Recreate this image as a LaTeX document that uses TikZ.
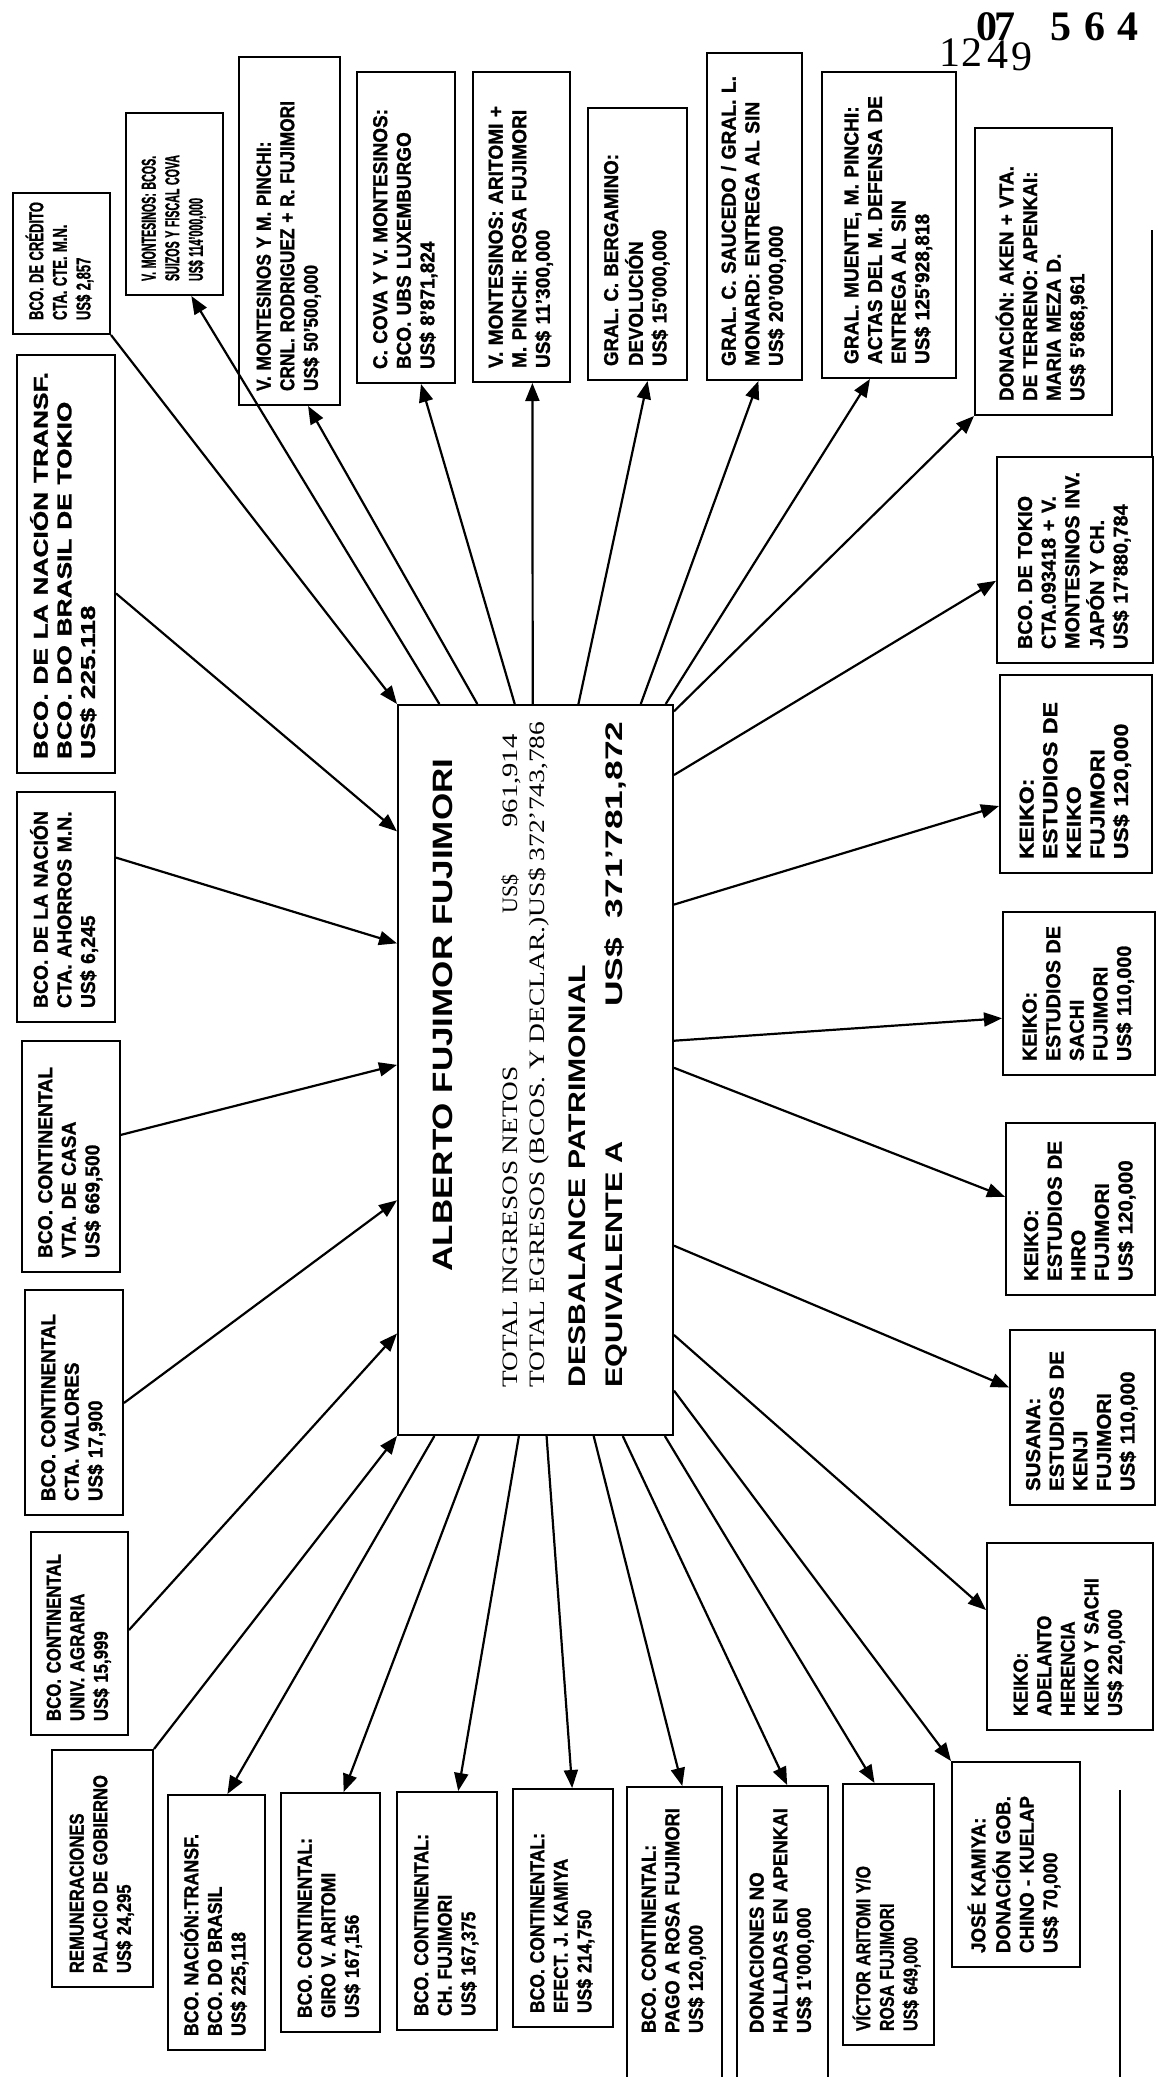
\documentclass[tikz,border=0pt]{standalone}
\usepackage{fontspec}
\usepackage{graphicx}
\usetikzlibrary{arrows.meta,calc}
\setmainfont{Liberation Serif}
\newfontfamily\bxfont{Liberation Sans}[Ligatures=TeX, BoldFeatures={FakeBold=1.3}]
\newfontfamily\ctfont{Liberation Sans}[Ligatures=TeX]

\tikzset{
  x=0.5pt, y=-0.5pt,
  bxstyle/.style={draw, line width=1pt, rotate=90, align=left, inner xsep=7pt, inner ysep=2pt,
    font=\bxfont\bfseries\fontsize{10}{11.8}\selectfont},
  conn/.style={line width=1.1pt},
  arr/.style={conn, -{Triangle[length=9pt,width=7pt]}},
  ctext/.style={rotate=90, anchor=base west, inner sep=0pt},
  digA/.style={anchor=base west, inner sep=0pt, font=\fontsize{21}{21}\selectfont},
  digB/.style={anchor=base west, inner sep=0pt, font=\bfseries\fontsize{21}{21}\selectfont},
}

\newsavebox\bxbox
\newlength\bxnat
\newlength\bxtarget
% scale a block of lines horizontally only, to a target width
\newcommand\fitlines[2]{%
  \sbox\bxbox{\begin{tabular}{@{}l@{}}#2\end{tabular}}%
  \setlength\bxnat{\wd\bxbox}%
  \ifdim\bxnat<1pt\setlength\bxnat{1pt}\fi
  \setlength\bxtarget{#1}%
  \pgfmathsetmacro\bxs{\bxtarget/\bxnat}%
  \scalebox{\bxs}[1]{\usebox\bxbox}}
% \bxnode[extra offset px]{name}{x1}{y1}{x2}{y2}{longest line px}{lines}
\newcommand\bxnode[8][0]{%
  \pgfmathsetmacro\bxw{(#6-#4)*0.5}%
  \pgfmathsetmacro\bxh{(#5-#3)*0.5}%
  \pgfmathsetmacro\bxt{(#6-#4)*0.5-14}%
  \pgfmathsetmacro\bxl{#7*0.5}%
  \pgfmathsetmacro\bxo{#1*0.5}%
  \node[bxstyle, minimum width=\bxw pt, minimum height=\bxh pt, text width=\bxt pt] (#2)
    at ({(#3+#5)/2},{(#4+#6)/2})
    {\hspace*{\bxo pt}\fitlines{\bxl pt}{#8}};%
}

\begin{document}
\begin{tikzpicture}
\useasboundingbox (0,0) rectangle (1157,2077);
\fill[white] (0,0) rectangle (1157,2077);
\clip (0,0) rectangle (1157,2077);

% ---------- centre box ----------
\node[draw, line width=1pt, minimum width=137.5pt, minimum height=365pt, inner sep=0pt] (C) at (535.5,1070) {};
\node[ctext] (ct1) at (452,1272) {\resizebox{256.5pt}{\height}{\ctfont\bfseries\fontsize{14}{14}\selectfont ALBERTO FUJIMOR FUJIMORI}};
\node[ctext] (ct2) at (517,1388) {\resizebox{160.5pt}{\height}{\fontsize{11}{11}\selectfont TOTAL INGRESOS NETOS}};
\node[ctext] (ct2b) at (517,914) {\resizebox{19.5pt}{\height}{\fontsize{11}{11}\selectfont US\$}};
\node[ctext] (ct2c) at (517,828) {\resizebox{46.5pt}{\height}{\fontsize{11}{11}\selectfont 961,914}};
\node[ctext] (ct3) at (544,1388) {\resizebox{333pt}{\height}{\fontsize{11}{11}\selectfont TOTAL EGRESOS (BCOS. Y DECLAR.)US\$ 372'743,786}};
\node[ctext] (ct4) at (585,1388) {\resizebox{211.5pt}{\height}{\ctfont\bfseries\fontsize{12}{12}\selectfont DESBALANCE PATRIMONIAL}};
\node[ctext] (ct5) at (622,1388) {\resizebox{123pt}{\height}{\ctfont\bfseries\fontsize{12}{12}\selectfont EQUIVALENTE A}};
\node[ctext] (ct5b) at (622,1007) {\resizebox{142.5pt}{\height}{\ctfont\bfseries\fontsize{12}{12}\selectfont US\$\ \ 371'781,872}};

% ---------- left column ----------
\bxnode{A1}{13}{193}{110}{334}{118}{BCO. DE CRÉDITO\\ CTA. CTE. M.N.\\ US\$ 2,857}
\bxnode{A2}{17}{355}{115}{773}{387}{BCO. DE LA NACIÓN TRANSF.\\ BCO. DO BRASIL DE TOKIO\\ US\$ 225.118}
\bxnode{A3}{17}{792}{115}{1022}{197}{BCO. DE LA NACIÓN\\ CTA. AHORROS M.N.\\ US\$ 6,245}
\bxnode{A4}{22}{1041}{120}{1272}{191}{BCO. CONTINENTAL\\ VTA. DE CASA\\ US\$ 669,500}
\bxnode{A5}{25}{1290}{123}{1515}{187}{BCO. CONTINENTAL\\ CTA. VALORES\\ US\$ 17,900}
\bxnode{A6}{31}{1532}{128}{1735}{167}{BCO. CONTINENTAL\\ UNIV. AGRARIA\\ US\$ 15,999}
\bxnode{A7}{52}{1750}{153}{1987}{198}{REMUNERACIONES\\ PALACIO DE GOBIERNO\\ US\$ 24,295}

% ---------- top row ----------
\bxnode{T1}{126}{113}{223}{295}{126}{V. MONTESINOS: BCOS.\\ SUIZOS Y FISCAL COVA\\ US\$ 114'000,000}
\bxnode{T2}{239}{57}{340}{405}{290}{V. MONTESINOS Y M. PINCHI:\\ CRNL. RODRIGUEZ + R. FUJIMORI\\ US\$ 50'500,000}
\bxnode{T3}{357}{72}{455}{383}{260}{C. COVA Y V. MONTESINOS:\\ BCO. UBS LUXEMBURGO\\ US\$ 8'871,824}
\bxnode{T4}{473}{72}{570}{382}{262}{V. MONTESINOS: ARITOMI +\\ M. PINCHI: ROSA FUJIMORI\\ US\$ 11'300,000}
\bxnode{T5}{588}{108}{687}{380}{212}{GRAL. C. BERGAMINO:\\ DEVOLUCIÓN\\ US\$ 15'000,000}
\bxnode{T6}{707}{53}{802}{380}{290}{GRAL. C. SAUCEDO / GRAL. L.\\ MONARD: ENTREGA AL SIN\\ US\$ 20'000,000}
\bxnode{T7}{822}{72}{956}{378}{268}{GRAL. MUENTE, M. PINCHI:\\ ACTAS DEL M. DEFENSA DE\\ ENTREGA AL SIN\\ US\$ 125'928,818}

% ---------- right column ----------
\bxnode{R1}{975}{128}{1112}{415}{235}{DONACIÓN: AKEN + VTA.\\ DE TERRENO: APENKAI:\\ MARIA MEZA D.\\ US\$ 5'868,961}
\bxnode{R2}{997}{457}{1153}{663}{177}{BCO. DE TOKIO\\ CTA.093418 + V.\\ MONTESINOS INV.\\ JAPÓN Y CH.\\ US\$ 17'880,784}
\bxnode{R3}{1000}{675}{1152}{873}{157}{KEIKO:\\ ESTUDIOS DE\\ KEIKO\\ FUJIMORI\\ US\$ 120,000}
\bxnode{R4}{1003}{912}{1155}{1075}{135}{KEIKO:\\ ESTUDIOS DE\\ SACHI\\ FUJIMORI\\ US\$ 110,000}
\bxnode{R5}{1006}{1123}{1155}{1295}{140}{KEIKO:\\ ESTUDIOS DE\\ HIRO\\ FUJIMORI\\ US\$ 120,000}
\bxnode{R6}{1010}{1330}{1155}{1505}{140}{SUSANA:\\ ESTUDIOS DE\\ KENJI\\ FUJIMORI\\ US\$ 110,000}
\bxnode{R7}{987}{1543}{1153}{1730}{138}{KEIKO:\\ ADELANTO\\ HERENCIA\\ KEIKO Y SACHI\\ US\$ 220,000}

% ---------- bottom row ----------
\bxnode{B1}{168}{1795}{265}{2050}{202}{BCO. NACIÓN:TRANSF.\\ BCO. DO BRASIL\\ US\$ 225,118}
\bxnode{B2}{281}{1793}{380}{2032}{180}{BCO. CONTINENTAL:\\ GIRO V. ARITOMI\\ US\$ 167,156}
\bxnode{B3}{397}{1792}{497}{2030}{182}{BCO. CONTINENTAL:\\ CH. FUJIMORI\\ US\$ 167,375}
\bxnode{B4}{513}{1789}{613}{2027}{180}{BCO. CONTINENTAL:\\ EFECT. J. KAMIYA\\ US\$ 214,750}
\bxnode[48]{B5}{627}{1787}{722}{2095}{225}{BCO. CONTINENTAL:\\ PAGO A ROSA FUJIMORI\\ US\$ 120,000}
\bxnode[48]{B6}{737}{1786}{828}{2095}{225}{DONACIONES NO\\ HALLADAS EN APENKAI\\ US\$ 1'000,000}
\bxnode{B7}{843}{1784}{934}{2045}{165}{VÍCTOR ARITOMI Y/O\\ ROSA FUJIMORI\\ US\$ 649,000}
\bxnode{B8}{952}{1762}{1080}{1967}{157}{JOSÉ KAMIYA:\\ DONACIÓN GOB.\\ CHINO - KUELAP\\ US\$ 70,000}

% ---------- incoming connectors (left column -> centre) ----------
\draw[arr] (A1.south west) -- (C.north west);
\draw[arr] ($(A2.south east)!0.57!(A2.south west)$) -- ($(C.north west)!0.174!(C.south west)$);
\draw[arr] ($(A3.south east)!0.287!(A3.south west)$) -- ($(C.north west)!0.327!(C.south west)$);
\draw[arr] ($(A4.south east)!0.407!(A4.south west)$) -- ($(C.north west)!0.493!(C.south west)$);
\draw[arr] ($(A5.south east)!0.502!(A5.south west)$) -- ($(C.north west)!0.678!(C.south west)$);
\draw[arr] ($(A6.south east)!0.483!(A6.south west)$) -- ($(C.north west)!0.86!(C.south west)$);
\draw[arr] (A7.south east) -- (C.south west);

% ---------- outgoing connectors: top ----------
\draw[arr] ($(C.north west)!0.153!(C.north east)$) -- ($(T1.north west)!0.67!(T1.south west)$);
\draw[arr] ($(C.north west)!0.29!(C.north east)$) -- ($(T2.north west)!0.68!(T2.south west)$);
\draw[arr] ($(C.north west)!0.425!(C.north east)$) -- ($(T3.north west)!0.65!(T3.south west)$);
\draw[arr] ($(C.north west)!0.49!(C.north east)$) -- ($(T4.north west)!0.61!(T4.south west)$);
\draw[arr] ($(C.north west)!0.655!(C.north east)$) -- ($(T5.north west)!0.60!(T5.south west)$);
\draw[arr] ($(C.north west)!0.88!(C.north east)$) -- ($(T6.north west)!0.54!(T6.south west)$);
\draw[arr] ($(C.north west)!0.97!(C.north east)$) -- ($(T7.north west)!0.36!(T7.south west)$);

% ---------- outgoing connectors: right ----------
\draw[arr] ($(C.north east)!0.01!(C.south east)$) -- (R1.north west);
\draw[arr] ($(C.north east)!0.097!(C.south east)$) -- ($(R2.north east)!0.60!(R2.north west)$);
\draw[arr] ($(C.north east)!0.274!(C.south east)$) -- ($(R3.north east)!0.66!(R3.north west)$);
\draw[arr] ($(C.north east)!0.46!(C.south east)$) -- ($(R4.north east)!0.65!(R4.north west)$);
\draw[arr] ($(C.north east)!0.497!(C.south east)$) -- ($(R5.north east)!0.43!(R5.north west)$);
\draw[arr] ($(C.north east)!0.74!(C.south east)$) -- ($(R6.north east)!0.33!(R6.north west)$);
\draw[arr] ($(C.north east)!0.862!(C.south east)$) -- ($(R7.north east)!0.36!(R7.north west)$);
\draw[arr] ($(C.north east)!0.938!(C.south east)$) -- (B8.north east);

% ---------- outgoing connectors: bottom ----------
\draw[arr] ($(C.south west)!0.135!(C.south east)$) -- ($(B1.north east)!0.61!(B1.south east)$);
\draw[arr] ($(C.south west)!0.295!(C.south east)$) -- ($(B2.north east)!0.63!(B2.south east)$);
\draw[arr] ($(C.south west)!0.44!(C.south east)$) -- ($(B3.north east)!0.61!(B3.south east)$);
\draw[arr] ($(C.south west)!0.54!(C.south east)$) -- ($(B4.north east)!0.59!(B4.south east)$);
\draw[arr] ($(C.south west)!0.71!(C.south east)$) -- ($(B5.north east)!0.58!(B5.south east)$);
\draw[arr] ($(C.south west)!0.815!(C.south east)$) -- ($(B6.north east)!0.55!(B6.south east)$);
\draw[arr] ($(C.south west)!0.967!(C.south east)$) -- ($(B7.north east)!0.35!(B7.south east)$);

% ---------- stamp number and page marks ----------
\node[digA] (d1) at (939,66) {1};
\node[digA] (d2) at (961,66) {2};
\node[digA] (d3) at (987,68) {4};
\node[digA] (d4) at (1011,70) {9};
\node[digB] (d5) at (976,40) {0};
\node[digB] (d6) at (994,40) {7};
\node[digB] (d7) at (1050,40) {5};
\node[digB] (d8) at (1084,40) {6};
\node[digB] (d9) at (1117,40) {4};
\draw[line width=1pt] (1152,230) -- (1152,457);
\draw[line width=1pt] (1120,1790) -- (1120,2077);
\end{tikzpicture}
\end{document}
